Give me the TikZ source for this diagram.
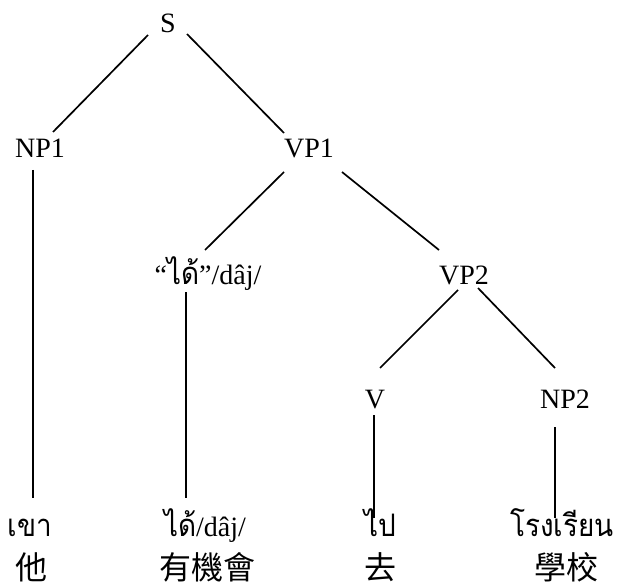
\documentclass[tikz,border=0pt]{standalone}
\usepackage{fontspec}
\setmainfont{Liberation Serif}
\newfontfamily\thaifont[Script=Thai,FakeStretch=0.9]{Loma}
\newfontfamily\cjk{Noto Sans CJK TC}
\begin{document}
\begin{tikzpicture}[x=1pt,y=-1pt,
  lbl/.style={anchor=base,inner sep=0pt,font=\fontsize{28}{32}\selectfont},
  thw/.style={anchor=base,inner sep=0pt,font=\fontsize{31}{34}\selectfont\thaifont},
  zhw/.style={anchor=base,inner sep=0pt,font=\fontsize{32}{35}\selectfont\cjk},
  branch/.style={line width=1.7pt}]
\useasboundingbox[fill=white] (0,0) rectangle (620,585);

% category labels
\node[lbl] (S)   at (168,33)  {S};
\node[lbl] (NP1) at (40,158)  {NP1};
\node[lbl] (VP1) at (309,158) {VP1};
\node[lbl] (dai) at (208,284) {“{\fontsize{31}{34}\selectfont\thaifont ได้}\char"22/dâj/};
\node[lbl] (VP2) at (464,284) {VP2};
\node[lbl] (V)   at (375,408) {V};
\node[lbl] (NP2) at (565,408) {NP2};

% Thai words
\node[thw] (khao)  at (30,536)  {เขา};
\node[thw] (daiw)  at (205,536) {ได้{\fontsize{28}{32}\selectfont\rmfamily/dâj/}};
\node[thw] (pai)   at (380,536) {ไป};
\node[thw] (rongr) at (562,536) {โรงเรียน};

% Chinese glosses
\node[zhw] (ta)   at (32,579)  {他};
\node[zhw] (you)  at (207,579) {有機會};
\node[zhw] (qu)   at (380,579) {去};
\node[zhw] (xue)  at (566,579) {學校};

% branches
\draw[branch] ([shift={(-20,2)}]S.base) -- ([shift={(13,-26)}]NP1.base);
\draw[branch] ([shift={(19,1)}]S.base) -- ([shift={(-25,-25)}]VP1.base);
\draw[branch] ([shift={(-7,12)}]NP1.base) -- ([shift={(3,-38)}]khao.base);
\draw[branch] ([shift={(-25,14)}]VP1.base) -- ([shift={(-3,-34)}]dai.base);
\draw[branch] ([shift={(33,14)}]VP1.base) -- ([shift={(-25,-34)}]VP2.base);
\draw[branch] ([shift={(-22,8)}]dai.base) -- ([shift={(-19,-38)}]daiw.base);
\draw[branch] ([shift={(-6,6)}]VP2.base) -- ([shift={(5,-40)}]V.base);
\draw[branch] ([shift={(14,4)}]VP2.base) -- ([shift={(-10,-40)}]NP2.base);
\draw[branch] ([shift={(-1,7)}]V.base) -- ([shift={(-6,-18)}]pai.base);
\draw[branch] ([shift={(-10,19)}]NP2.base) -- ([shift={(-7,-18)}]rongr.base);
\end{tikzpicture}
\end{document}
